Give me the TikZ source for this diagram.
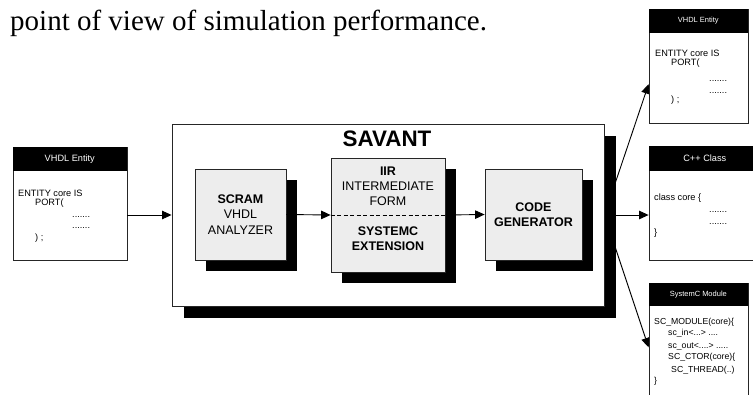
\documentclass[tikz,border=0pt]{standalone}
\usepackage{fontspec}
\setmainfont{Liberation Sans}
\newfontfamily\capfont{Liberation Serif}
\usetikzlibrary{arrows.meta,calc,shadows,backgrounds}
\begin{document}
\begin{tikzpicture}[x=1pt,y=-1pt,
  arr/.style={-{Triangle[length=9.5pt,width=8.5pt]}, line width=0.9pt},
  outer/.style={draw=black!85, line width=0.9pt, fill=white, inner sep=0pt,
    general shadow={fill=black, shadow xshift=12pt, shadow yshift=-12pt}},
  inbox/.style={draw=black!85, line width=0.8pt, fill=black!7, inner sep=0pt, align=center,
    font=\fontsize{12.5}{15.5}\selectfont,
    general shadow={fill=black, shadow xshift=11pt, shadow yshift=-11pt}},
  codebox/.style={draw=black!85, line width=0.8pt, fill=white, inner sep=0pt},
  hdr/.style={fill=black, text=white, inner sep=0pt, minimum height=24pt, anchor=north west,
    font=\fontsize{7.5}{8}\selectfont},
  code/.style={anchor=base west, inner sep=0pt, font=\fontsize{9.2}{10}\selectfont},
  scode/.style={anchor=base west, inner sep=0pt, font=\fontsize{8.7}{10}\selectfont}
]
\clip (0,0) rectangle (753,394);
\begin{scope}[on background layer]
  \fill[white] (0,0) rectangle (753,394);
\end{scope}

% caption text
\node[anchor=base west, inner sep=0pt, font=\capfont\fontsize{29}{30}\selectfont] (cap) at (10,30)
  {point of view of simulation performance.};

% left VHDL entity
\node[codebox, minimum width=114pt, minimum height=113pt] (lv) at (70,203.5) {};
\node[hdr, minimum width=114pt, font=\fontsize{9.2}{10}\selectfont] (lvh) at (lv.north west) {VHDL Entity};
\node[code] (lv1) at (18,196.5) {ENTITY core IS};
\node[code] (lv2) at (35,205) {PORT(};
\node[code] (lv3) at (72,217) {.......};
\node[code] (lv4) at (72,228) {.......};
\node[code] (lv5) at (35,240) {) ;};

% SAVANT
\node[outer, minimum width=432pt, minimum height=182pt] (sav) at (388,215) {};
\node[inner sep=0pt, font=\bfseries\fontsize{22.4}{24}\selectfont] (savt) at (387,139) {SAVANT};

\node[inbox, minimum width=91pt, minimum height=91pt] (scram) at (240.5,214.5)
  {\textbf{SCRAM}\\VHDL\\ANALYZER};
\node[inbox, minimum width=114pt, minimum height=114pt] (iir) at (388,215) {};
\node[inner sep=0pt, align=center, font=\fontsize{12.5}{15}\selectfont] (iirt) at (388,186)
  {\textbf{IIR}\\INTERMEDIATE\\FORM};
\node[inner sep=0pt, align=center, font=\bfseries\fontsize{12.5}{15}\selectfont] (iirb) at (388,238.5)
  {SYSTEMC\\EXTENSION};
\draw[dashed, line width=0.8pt, dash pattern=on 4pt off 2.5pt] (iir.west) -- (iir.east);
\node[inbox, minimum width=97pt, minimum height=91pt, font=\bfseries\fontsize{12.5}{15}\selectfont]
  (code) at (533.5,214.5) {CODE\\GENERATOR};

\draw[arr] (lv.east |- sav.west) -- (sav.west);
\draw[arr] (scram.east) -- (iir.west);
\draw[arr] (iir.east) -- (code.west);

% top right VHDL entity
\node[codebox, minimum width=99pt, minimum height=114pt] (vt) at (698.5,66) {};
\node[hdr, minimum width=99pt] (vth) at (vt.north west) {VHDL Entity};
\node[code] (vt1) at (655,56.7) {ENTITY core IS};
\node[code] (vt2) at (671,65) {PORT(};
\node[code] (vt3) at (709,81) {.......};
\node[code] (vt4) at (709,93) {.......};
\node[code] (vt5) at (671,102.7) {) ;};

% C++ class
\node[codebox, minimum width=121pt, minimum height=114pt] (cpp) at (709.5,203) {};
\node[hdr, minimum width=121pt, minimum height=25pt, font=\fontsize{9.2}{10}\selectfont] (cpph) at (cpp.north west) {\hspace*{-9pt}C++ Class};
\node[code] (cp1) at (654,200) {class core \{};
\node[code] (cp2) at (709,212.5) {.......};
\node[code] (cp3) at (709,224) {.......};
\node[code] (cp4) at (654,235) {\}};

% SystemC module
\node[codebox, minimum width=99pt, minimum height=117pt] (sc) at (698.5,341.5) {};
\node[hdr, minimum width=99pt, minimum height=23pt] (sch) at (sc.north west) {SystemC Module};
\node[scode] (sc1) at (654,324.3) {SC\_MODULE(core)\{};
\node[scode] (sc2) at (668,335.7) {sc\_in<...> ....};
\node[scode] (sc3) at (668,348) {sc\_out<....> .....};
\node[scode] (sc4) at (668,359.5) {SC\_CTOR(core)\{};
\node[scode] (sc5) at (671,372) {SC\_THREAD(..)};
\node[scode] (sc6) at (654,383) {\}};

\begin{scope}[on background layer]
  \draw[arr] (sav.east) -- ($(vt.north west)!0.658!(vt.south west)$);
  \draw[arr] (sav.east) -- (cpp.west |- sav.east);
  \draw[arr] (sav.east) -- ($(sc.north west)!0.55!(sc.south west)$);
\end{scope}
\end{tikzpicture}
\end{document}
